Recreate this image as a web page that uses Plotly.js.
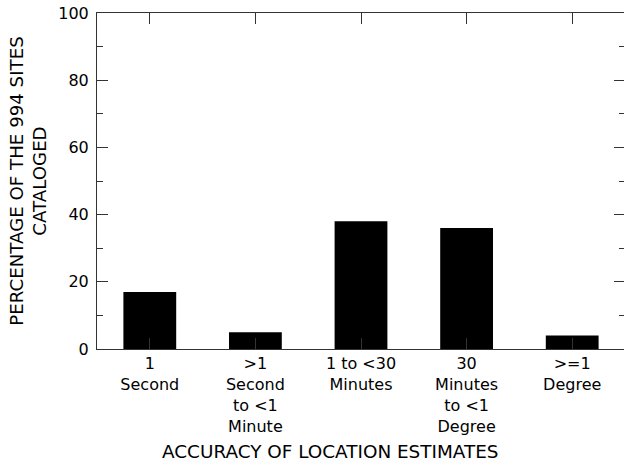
<!DOCTYPE html>
<html>
<head>
<meta charset="utf-8">
<script src="https://cdn.plot.ly/plotly-3.0.1.min.js"></script>
<style>
html,body{margin:0;padding:0;overflow:hidden;background:#fff;}
#chart{width:625px;height:461px;}
</style>
</head>
<body>
<div id="chart"></div>
<script>
const categories = [
  "1<br>Second",
  "&gt;1<br>Second<br>to &lt;1<br>Minute",
  "1 to &lt;30<br>Minutes",
  "30<br>Minutes<br>to &lt;1<br>Degree",
  "&gt;=1<br>Degree"
];
const percentages = [17, 5, 38, 36, 4];
const yTickVals = [0, 20, 40, 60, 80, 100];
const xTitle = "ACCURACY OF LOCATION ESTIMATES";
const yTitle = "PERCENTAGE OF THE 994 SITES<br>CATALOGED";

const fontFam = "DejaVu Sans, Arial, sans-serif";
const data = [{
  type: "bar",
  x: categories,
  y: percentages,
  width: 0.5,
  marker: {color: "#000", line: {width: 0}},
  hoverinfo: "none"
}];
const layout = {
  width: 625, height: 461,
  margin: {l: 97, r: 0, t: 13, b: 112},
  paper_bgcolor: "#fff", plot_bgcolor: "#fff",
  showlegend: false,
  font: {family: fontFam, size: 16, color: "#000"},
  xaxis: {
    type: "category",
    range: [-0.5, 4.5],
    showline: true, linecolor: "#333", linewidth: 1,
    mirror: "ticks",
    ticks: "inside", ticklen: 11, tickcolor: "#333", tickwidth: 1,
    showgrid: false, zeroline: false,
    tickfont: {family: fontFam, size: 16, color: "#000"}
  },
  yaxis: {
    range: [0, 100],
    tickvals: yTickVals,
    showline: true, linecolor: "#333", linewidth: 1,
    mirror: "ticks",
    ticks: "inside", ticklen: 11, tickcolor: "#333", tickwidth: 1,
    ticklabelstandoff: 4,
    minor: {dtick: 10, ticks: "inside", ticklen: 6, tickcolor: "#333", tickwidth: 1, showgrid: false},
    showgrid: false, zeroline: false,
    tickfont: {family: fontFam, size: 16, color: "#000"},
    title: {text: yTitle, font: {family: fontFam, size: 18.2, color: "#000"}, standoff: 6}
  },
  annotations: [{
    text: xTitle,
    xref: "paper", yref: "paper",
    x: 0.442, y: -0.3065,
    xanchor: "center", yanchor: "middle",
    showarrow: false,
    font: {family: fontFam, size: 18.4, color: "#000"}
  }]
};
Plotly.newPlot("chart", data, layout, {staticPlot: true, displayModeBar: false});
</script>
</body>
</html>
